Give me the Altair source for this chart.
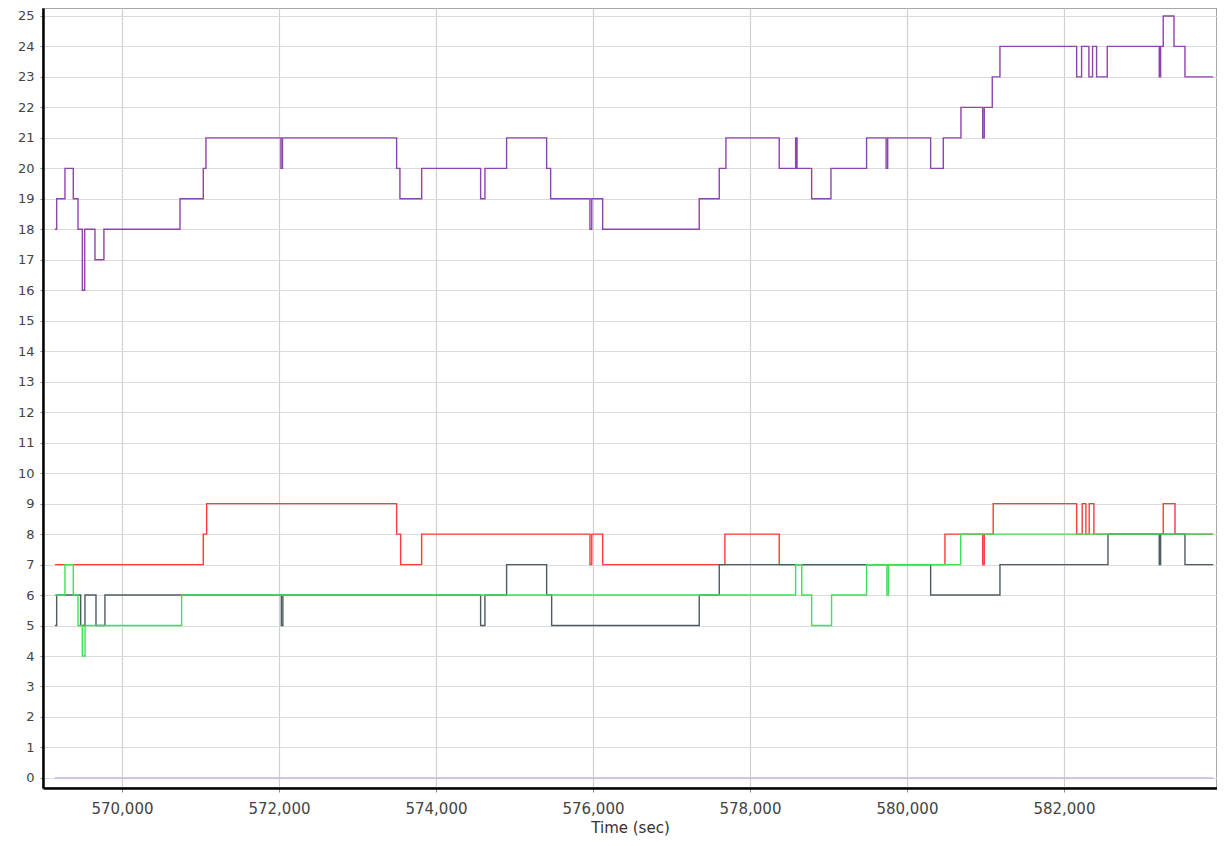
import altair as alt
import pandas as pd

# step change points (time in sec, value holds until next point)
purple_t = [569146, 569168, 569274, 569380, 569440, 569495, 569525, 569656, 569770,
            570739, 571036, 571070, 572025, 572045, 573499, 573520, 573541, 573818,
            574569, 574624, 574900, 575410, 575440, 575461, 575962, 575985, 576098,
            576124, 577354, 577609, 577694, 578373, 578582, 578600, 578660, 578786,
            579032, 579486, 579735, 579755, 580302, 580463, 580688, 580965, 580985,
            581087, 581185, 582162, 582225, 582318, 582365, 582416, 582552, 583214,
            583232, 583265, 583402, 583542, 583902]
purple_v = [18, 19, 20, 19, 18, 16, 18, 17, 18,
            19, 20, 21, 20, 21, 20, 20, 19, 20,
            19, 20, 21, 20, 20, 19, 18, 19, 19,
            18, 19, 20, 21, 20, 21, 20, 20, 19,
            20, 21, 20, 21, 20, 21, 22, 21, 22,
            23, 24, 23, 24, 23, 24, 23, 24, 23,
            24, 25, 24, 23, 23]

red_t = [569146, 571036, 571079, 573499, 573550, 573818, 575962, 575985, 576098,
         576124, 577681, 578373, 580484, 580965, 580985, 581099, 582162, 582233,
         582280, 582322, 582382, 582420, 583265, 583415, 583898]
red_v = [7, 8, 9, 8, 7, 8, 7, 8, 8,
         7, 8, 7, 8, 7, 8, 9, 8, 9,
         8, 9, 8, 8, 9, 8, 8]

gray_t = [569146, 569168, 569474, 569529, 569669, 569783, 572030, 572050, 574569,
          574624, 574900, 575410, 575474, 577354, 577609, 580302, 581185, 582561,
          583214, 583232, 583542, 583902]
gray_v = [5, 6, 5, 6, 5, 6, 5, 6, 5,
          6, 7, 6, 5, 6, 7, 6, 7, 8,
          7, 8, 7, 7]

green_t = [569146, 569274, 569380, 569440, 569495, 569530, 570760, 578582, 578660,
           578786, 579040, 579486, 579745, 579765, 580685, 583902]
green_v = [6, 7, 6, 5, 4, 5, 6, 7, 6,
           5, 6, 7, 6, 7, 8, 8]

zero_t = [569146, 583902]
zero_v = [0, 0]

# drawing order: bottom to top
series_names = ["zero", "red", "gray", "green", "purple"]
series_colors = ["#c9b9d9", "#ff3b3b", "#4f5d63", "#3fe05a", "#8e44ad"]

rows = []
for name, ts, vs in [("zero", zero_t, zero_v), ("red", red_t, red_v),
                     ("gray", gray_t, gray_v), ("green", green_t, green_v),
                     ("purple", purple_t, purple_v)]:
    for i, (t, v) in enumerate(zip(ts, vs)):
        rows.append({"series": name, "t": t, "v": v, "order": i})
df = pd.DataFrame(rows)

x_ticks = [570000, 572000, 574000, 576000, 578000, 580000, 582000]
y_ticks = list(range(0, 26))

base = alt.Chart(df)
layers = []
for name in series_names:
    layers.append(
        base.transform_filter(alt.datum.series == name)
        .mark_line(interpolate="step-after", strokeWidth=1.4)
        .encode(
            x=alt.X("t:Q", title="Time (sec)",
                    scale=alt.Scale(domain=[568994, 583950], nice=False, zero=False),
                    axis=alt.Axis(values=x_ticks, format=",d", grid=True, gridColor="#cfcfd6",
                                  gridWidth=1.2, domainColor="#000000", domainWidth=2.5,
                                  tickColor="#888", tickSize=4, labelPadding=9,
                                  labelFontSize=15, labelColor="#444", labelFont="DejaVu Sans",
                                  titleFont="DejaVu Sans", titleFontSize=15,
                                  titleFontWeight="normal", titleColor="#333", titlePadding=4)),
            y=alt.Y("v:Q", title=None,
                    scale=alt.Scale(domain=[-0.33, 25.26], nice=False, zero=False),
                    axis=alt.Axis(values=y_ticks, grid=True, gridColor="#dcdcdc", gridWidth=1.2,
                                  domainColor="#000000", domainWidth=2.5, tickColor="#888",
                                  tickSize=3, labelPadding=6, labelFontSize=13,
                                  labelColor="#444", labelFont="DejaVu Sans")),
            color=alt.Color("series:N",
                            scale=alt.Scale(domain=series_names, range=series_colors),
                            legend=None),
            order="order:Q",
        )
    )

chart = alt.layer(*layers).properties(
    width=1174, height=780,
    autosize=alt.AutoSizeParams(type="none"),
    padding={"left": 35, "top": 0, "right": 0, "bottom": 50},
).configure_view(stroke="#8a8a8a", strokeWidth=1.5)

chart.save("out.html", embed_options={"renderer": "svg", "actions": False})
